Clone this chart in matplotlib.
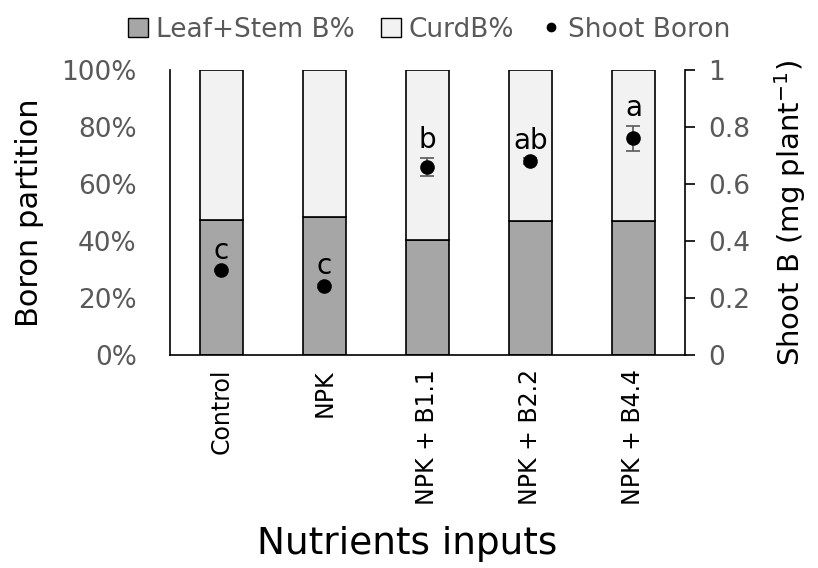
import matplotlib
matplotlib.use("Agg")
import matplotlib.pyplot as plt
from matplotlib.patches import Patch
from matplotlib.lines import Line2D
import numpy as np

# data
treatments = ["Control", "NPK", "NPK + B1.1", "NPK + B2.2", "NPK + B4.4"]
leaf_stem_pct = [47.5, 48.5, 40.5, 47.0, 47.0]
curd_pct = [100 - v for v in leaf_stem_pct]
shoot_b = [0.298, 0.242, 0.66, 0.68, 0.761]
shoot_b_err = [0.005, 0.008, 0.032, 0.01, 0.044]
letters = ["c", "c", "b", "ab", "a"]

GREY_TXT = "#595959"

fig = plt.figure(figsize=(8.18, 5.68), dpi=100)
ax = fig.add_axes([0.2078, 0.375, 0.6296, 0.5018])
x = np.arange(len(treatments))

ax.bar(x, leaf_stem_pct, width=0.41, color="#a6a6a6", edgecolor="black", linewidth=1.2)
ax.bar(x, curd_pct, width=0.41, bottom=leaf_stem_pct, color="#f2f2f2",
       edgecolor="black", linewidth=1.2)

ax.set_xlim(-0.5, len(treatments) - 0.5)
ax.set_ylim(0, 100)
ax.set_yticks(np.arange(0, 101, 20))
ax.set_yticklabels([f"{v}%" for v in range(0, 101, 20)])
ax.set_xticks(x)
ax.set_xticklabels(treatments, rotation=90, fontsize=17)
ax.tick_params(axis="x", length=0, pad=10)
ax.tick_params(axis="y", length=0, labelsize=19, labelcolor=GREY_TXT, pad=24)
for s in ["top", "right"]:
    ax.spines[s].set_visible(False)
ax.spines["left"].set_linewidth(1.2)
ax.spines["bottom"].set_linewidth(1.2)
ax.set_ylabel("Boron partition", fontsize=22)
ax.yaxis.set_label_coords(-0.245, 0.5)
ax.set_xlabel("Nutrients inputs", fontsize=27)
ax.xaxis.set_label_coords(0.46, -0.6)

ax2 = ax.twinx()
ax2.set_ylim(0, 1)
ax2.set_yticks(np.arange(0, 1.01, 0.2))
ax2.set_yticklabels(["0", "0.2", "0.4", "0.6", "0.8", "1"])
ax2.errorbar(x, shoot_b, yerr=shoot_b_err, fmt="o", color="black", markersize=9.5,
             ecolor="#595959", elinewidth=1.2, capsize=5, capthick=1.2)
for xi, yi, ei, lab in zip(x, shoot_b, shoot_b_err, letters):
    ax2.text(xi, yi + ei + 0.062, lab, ha="center", va="center", fontsize=20)
for s in ["top", "left", "bottom"]:
    ax2.spines[s].set_visible(False)
ax2.spines["right"].set_linewidth(1.2)
ax2.tick_params(axis="y", length=7, width=1.2, labelsize=19, labelcolor=GREY_TXT, pad=10)
ax2.set_ylabel("Shoot B (mg plant$^{-1}$)", fontsize=21)
ax2.yaxis.set_label_coords(1.17, 0.5)

handles = [
    Patch(facecolor="#a6a6a6", edgecolor="black", label="Leaf+Stem B%"),
    Patch(facecolor="#f2f2f2", edgecolor="black", label="CurdB%"),
    Line2D([], [], marker="o", color="black", linestyle="none", markersize=6,
           label="Shoot Boron"),
]
leg = fig.legend(handles=handles, loc="upper center", bbox_to_anchor=(0.525, 1.012), ncol=3,
                 frameon=False, fontsize=19, handlelength=0.75, handleheight=0.75,
                 handletextpad=0.3, columnspacing=1.0)
for t in leg.get_texts():
    t.set_color(GREY_TXT)

fig.savefig("out.png", dpi=100)
